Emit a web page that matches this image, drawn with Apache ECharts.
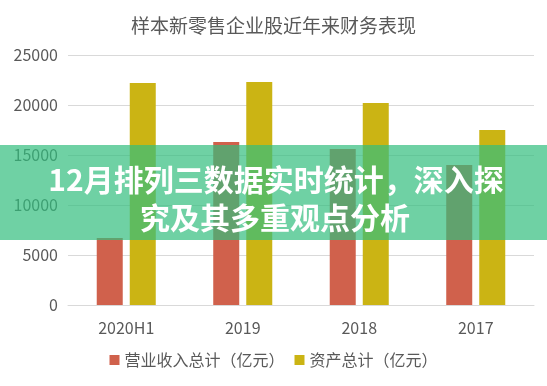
<!DOCTYPE html>
<html>
<head>
<meta charset="utf-8">
<script src="https://cdn.jsdelivr.net/npm/echarts@6/dist/echarts.min.js"></script>
<style>html,body{margin:0;padding:0;background:#fff}#c{width:547px;height:386px}</style>
</head>
<body>
<div id="c"></div>
<script>
const titleText = '样本新零售企业股近年来财务表现';
const categories = ['2020H1', '2019', '2018', '2017'];
const seriesNames = ['营业收入总计（亿元）', '资产总计（亿元）'];
const revenue = [6700, 16300, 15600, 14000];
const assets = [22200, 22300, 20200, 17500];
const yTicks = [0, 5000, 10000, 15000, 20000, 25000];
const overlayLines = ['12月排列三数据实时统计，深入探', '究及其多重观点分析'];

const font = '"Noto Sans CJK SC", "Noto Sans", sans-serif';
const chart = echarts.init(document.getElementById('c'));
chart.setOption({
  animation: false,
  title: {
    text: titleText, left: 'center', top: 11,
    textStyle: { fontFamily: font, fontSize: 19, fontWeight: 'normal', color: '#595959' }
  },
  legend: {
    data: seriesNames, bottom: 13, left: 'center', itemWidth: 10, itemHeight: 10, itemGap: 10,
    icon: 'rect',
    textStyle: { fontFamily: font, fontSize: 16, color: '#595959' }
  },
  grid: { left: 68, right: 13, top: 55, bottom: 81, containLabel: false },
  xAxis: {
    type: 'category', data: categories,
    axisLine: { lineStyle: { color: '#d9d9d9' } },
    axisTick: { show: false },
    axisLabel: { fontFamily: font, fontSize: 16, color: '#595959', margin: 15 }
  },
  yAxis: {
    type: 'value', min: yTicks[0], max: yTicks[yTicks.length - 1], interval: 5000,
    axisLine: { show: false }, axisTick: { show: false },
    splitLine: { lineStyle: { color: '#d9d9d9' } },
    axisLabel: { fontFamily: font, fontSize: 16, color: '#595959', margin: 10, formatter: v => String(v) }
  },
  series: [
    { name: seriesNames[0], type: 'bar', data: revenue, barWidth: 26, barGap: '27%', itemStyle: { color: '#d0614c' } },
    { name: seriesNames[1], type: 'bar', data: assets, barWidth: 26, itemStyle: { color: '#cbb414' } }
  ],
  graphic: [
    { type: 'rect', left: 0, top: 145, z: 100, shape: { width: 547, height: 95 }, style: { fill: 'rgba(50,190,125,0.7)' } },
    { type: 'text', x: 276, y: 180, z: 101, style: { text: overlayLines[0], fill: '#fff', font: 'bold 30px ' + font, textAlign: 'center', textVerticalAlign: 'middle' } },
    { type: 'text', x: 275, y: 218, z: 101, style: { text: overlayLines[1], fill: '#fff', font: 'bold 30px ' + font, textAlign: 'center', textVerticalAlign: 'middle' } }
  ]
});
</script>
</body>
</html>
